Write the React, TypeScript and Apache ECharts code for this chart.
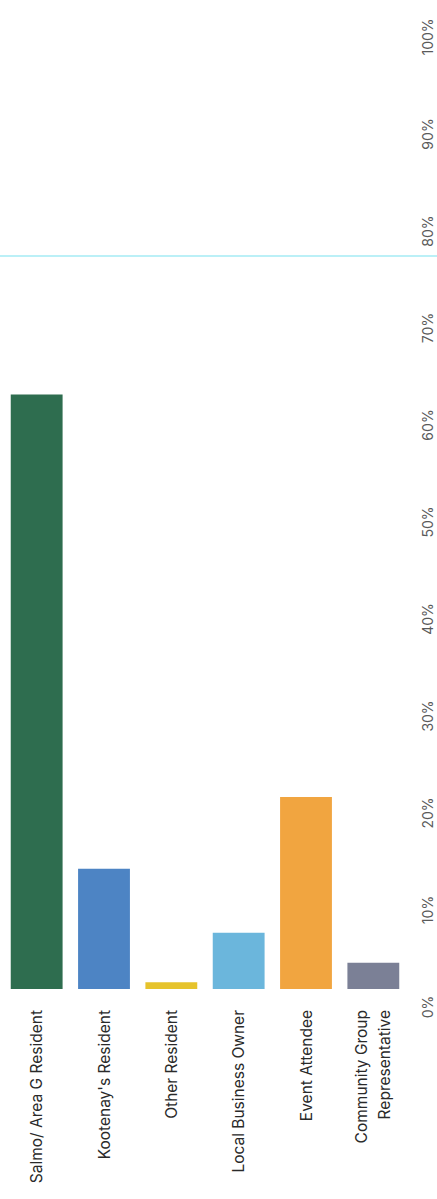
import React, { useEffect, useRef } from "react";
import * as echarts from "echarts";

const categories = [
  "Salmo/ Area G Resident",
  "Kootenay's Resident",
  "Other Resident",
  "Local Business Owner",
  "Event Attendee",
  "Community Group\nRepresentative",
];
const values = [61.3, 12.4, 0.7, 5.8, 19.8, 2.7];
const barColors = ["#2e6d4f", "#4d84c4", "#e6c32c", "#6bb6dc", "#f1a540", "#7b8096"];
const tickValues = [0, 10, 20, 30, 40, 50, 60, 70, 80, 90, 100];

export default function App() {
  const ref = useRef<HTMLDivElement>(null);
  useEffect(() => {
    if (!ref.current) return;
    const chart = echarts.init(ref.current, undefined, { renderer: "svg" });
    const yMin = tickValues[0];
    const yMax = tickValues[tickValues.length - 1];
    chart.setOption({
      animation: false,
      backgroundColor: "#ffffff",
      grid: [
        { left: 3, right: 30, top: 19, bottom: 210, containLabel: false },
        { left: 3, right: 30, top: 37, bottom: 192, containLabel: false },
      ],
      xAxis: [
        {
          type: "category",
          gridIndex: 0,
          data: categories,
          axisLine: { show: false },
          axisTick: { show: false },
          axisLabel: {
            rotate: 90,
            margin: 21,
            interval: 0,
            color: "#2a2a2a",
            fontFamily: "Inter",
            fontSize: 15.5,
            lineHeight: 23,
            align: "right",
          },
        },
        { type: "category", gridIndex: 1, data: categories, show: false },
      ],
      yAxis: [
        {
          type: "value",
          gridIndex: 0,
          min: yMin,
          max: yMax,
          interval: 10,
          show: false,
        },
        {
          type: "value",
          gridIndex: 1,
          position: "right",
          min: yMin,
          max: yMax,
          interval: 10,
          splitLine: { show: false },
          axisLine: { show: false },
          axisTick: { show: false },
          axisLabel: {
            rotate: 90,
            margin: 13,
            color: "#5a5a5a",
            fontFamily: "Inter",
            fontSize: 14,
            formatter: "{value}%",
          },
        },
      ],
      graphic: [
        {
          type: "line",
          shape: { x1: 0, y1: 256, x2: 437, y2: 256 },
          style: { stroke: "#8fe6f2", lineWidth: 1.5, opacity: 0.8 },
          z: 10,
        },
      ],
      series: [
        {
          type: "bar",
          xAxisIndex: 0,
          yAxisIndex: 0,
          barCategoryGap: "23%",
          data: values.map((v, i) => ({ value: v, itemStyle: { color: barColors[i] } })),
        },
      ],
    });
    return () => chart.dispose();
  }, []);
  return (
    <div
      ref={ref}
      style={{ position: "fixed", left: 0, top: 0, width: 437, height: 1199 }}
    />
  );
}
